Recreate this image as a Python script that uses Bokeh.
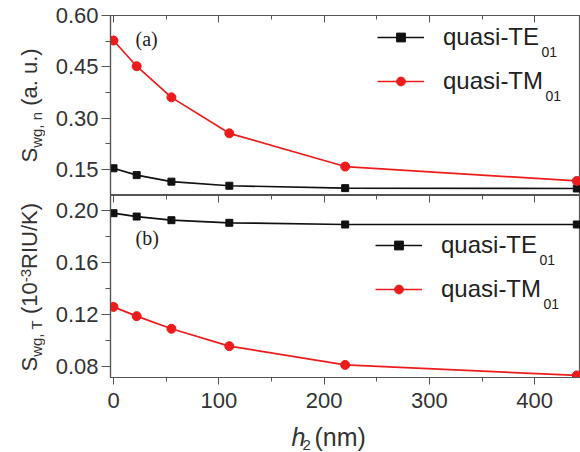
import math
from bokeh.plotting import figure
from bokeh.layouts import column, row
from bokeh.models import (Range1d, FixedTicker, LinearAxis, Label, Legend,
                          LegendItem, PrintfTickFormatter, ColumnDataSource)
from bokeh.embed import file_html
from bokeh.resources import INLINE

# ---------------- data ----------------
h2 = [0, 22, 55, 110, 220, 440]
sn_te = [0.154, 0.134, 0.115, 0.103, 0.096, 0.095]
sn_tm = [0.527, 0.452, 0.361, 0.256, 0.159, 0.117]
st_te = [0.1977, 0.1951, 0.1923, 0.1903, 0.1890, 0.1890]
st_tm = [0.1256, 0.1185, 0.1088, 0.0954, 0.0810, 0.0729]

x_ticks = [0, 100, 200, 300, 400]
x_minor = [50, 150, 250, 350]
top_ticks = [0.15, 0.30, 0.45, 0.60]
top_minor = [0.075, 0.225, 0.375, 0.525]
bot_ticks = [0.08, 0.12, 0.16, 0.20]
bot_minor = [0.10, 0.14, 0.18]
names = ["quasi-TE", "quasi-TM"]
sub_txt = "01"

# ---------------- style ----------------
AX = "#555555"
TXT = "#333333"
FONT = "Liberation Sans"
TE_C = "#111111"
TM_C = "#ec1c1c"
LW = 45          # width of the strip that holds the rotated y titles
PW = 580 - LW    # width of the plot figures


def strip(width, height):
    s = figure(width=width, height=height, x_range=Range1d(0, 1),
               y_range=Range1d(0, 1), output_backend="svg",
               toolbar_location=None, x_axis_location=None,
               y_axis_location=None, min_border=0)
    s.min_border_left = s.min_border_right = 0
    s.min_border_top = s.min_border_bottom = 0
    s.grid.visible = False
    s.outline_line_color = None
    s.background_fill_color = "white"
    s.border_fill_color = "white"
    return s


def style_axis(ax):
    for k in ("axis_line_color", "major_tick_line_color", "minor_tick_line_color"):
        setattr(ax, k, AX)
    ax.axis_line_width = 1.2
    ax.major_label_text_font = FONT
    ax.major_label_text_font_size = "22px"
    ax.major_label_text_color = TXT


def base_fig(height, yr, ticks, minor, top_border, bottom_border, xaxis):
    p = figure(width=PW, height=height,
               x_range=Range1d(-2.85, 443.5), y_range=Range1d(*yr),
               output_backend="svg", toolbar_location=None,
               x_axis_location=xaxis,
               min_border_left=110 - LW, min_border_right=0,
               min_border_top=top_border, min_border_bottom=bottom_border)
    p.grid.visible = False
    p.outline_line_color = AX
    p.outline_line_width = 1.2
    p.background_fill_color = "white"
    p.border_fill_color = "white"
    ya = p.left[0]
    ya.ticker = FixedTicker(ticks=ticks, minor_ticks=minor)
    ya.formatter = PrintfTickFormatter(format="%.2f")
    ya.major_tick_out = 9
    ya.major_tick_in = 0
    ya.minor_tick_out = 5
    ya.minor_tick_in = 0
    ya.major_label_standoff = 3
    style_axis(ya)
    # inward ticks along the top edge (no labels drawn)
    top = LinearAxis(ticker=FixedTicker(ticks=x_ticks, minor_ticks=x_minor),
                     major_label_text_font_size="1px",
                     major_label_text_color=None,
                     major_label_standoff=0,
                     major_tick_in=7, major_tick_out=0,
                     minor_tick_in=4, minor_tick_out=0,
                     axis_line_color=AX, major_tick_line_color=AX,
                     minor_tick_line_color=AX)
    p.add_layout(top, "above")
    return p


def add_series(p, y_te, y_tm):
    src = ColumnDataSource(dict(x=h2, te=y_te, tm=y_tm))
    l1 = p.line("x", "te", source=src, line_color=TE_C, line_width=1.7)
    s1 = p.scatter("x", "te", source=src, marker="square", size=7,
                   fill_color=TE_C, line_color=TE_C)
    l2 = p.line("x", "tm", source=src, line_color=TM_C, line_width=1.7)
    s2 = p.scatter("x", "tm", source=src, marker="circle", size=9,
                   fill_color=TM_C, line_color=TM_C)
    return (l1, s1), (l2, s2)


def add_legend(p, te_r, tm_r, loc, sub_pos):
    leg = Legend(items=[LegendItem(label=names[0], renderers=list(te_r)),
                        LegendItem(label=names[1], renderers=list(tm_r))],
                 location=loc, orientation="vertical",
                 glyph_width=47, glyph_height=22, label_height=22,
                 label_standoff=19, spacing=16, padding=0, margin=0,
                 border_line_color=None, background_fill_alpha=0,
                 label_text_font=FONT, label_text_font_size="24px",
                 label_text_color="#222222")
    p.add_layout(leg)
    for (sx, sy) in sub_pos:
        p.add_layout(Label(x=sx, y=sy, x_units="screen", y_units="screen",
                           text=sub_txt, text_font=FONT,
                           text_font_size="14px", text_color="#222222",
                           text_align="left", text_baseline="alphabetic"))


def lab(p, x, y, text, size, angle=0.0, font=FONT, style="normal", color=TXT):
    p.add_layout(Label(x=x, y=y, x_units="screen", y_units="screen",
                       text=text, angle=angle, text_font=font,
                       text_font_size=size, text_font_style=style,
                       text_color=color, text_align="left",
                       text_baseline="alphabetic"))


R = math.pi / 2

# ---------------- top panel ----------------
p1 = base_fig(195, (0.0745, 0.60), top_ticks, top_minor, 15, 0, None)
te_r, tm_r = add_series(p1, sn_te, sn_tm)
add_legend(p1, te_r, tm_r, (267, 100), [(431, 144), (435, 100)])
lab(p1, 25, 157, "(a)", "20px", font="Liberation Serif", color="#222222")

s1 = strip(LW, 195)
lab(s1, 29, 33, "S", "22px", angle=R)
lab(s1, 36, 47.7, "wg, n", "15px", angle=R)
lab(s1, 29, 89.7, "(a. u.)", "22px", angle=R)

# ---------------- bottom panel ----------------
p2 = base_fig(222, (0.0713, 0.2113), bot_ticks, bot_minor, 0, 40, "below")
xa = p2.below[0]
xa.ticker = FixedTicker(ticks=x_ticks, minor_ticks=x_minor)
xa.major_tick_out = 7
xa.major_tick_in = 0
xa.minor_tick_out = 4
xa.minor_tick_in = 0
xa.major_label_standoff = 8
style_axis(xa)

te_r2, tm_r2 = add_series(p2, st_te, st_tm)
add_legend(p2, te_r2, tm_r2, (265, 74), [(429, 118), (433, 74)])
lab(p2, 25, 140, "(b)", "20px", font="Liberation Serif", color="#222222")

s2 = strip(LW, 222)
lab(s2, 29, 6, "S", "22px", angle=R)
lab(s2, 36, 20.7, "wg, T", "15px", angle=R)
lab(s2, 29, 63.5, "(10", "22px", angle=R)
lab(s2, 25, 95.3, "-3", "15px", angle=R)
lab(s2, 29, 108.6, "RIU/K)", "22px", angle=R)

# ---------------- x title strip ----------------
s3 = strip(580, 35)
lab(s3, 291, 16, "h", "25px", style="italic")
lab(s3, 302, 8, "2", "15px")
lab(s3, 314, 16, "(nm)", "25px")

layout = column(row(s1, p1, spacing=0), row(s2, p2, spacing=0), s3, spacing=0)
open("out.html", "w").write(file_html(layout, INLINE))
